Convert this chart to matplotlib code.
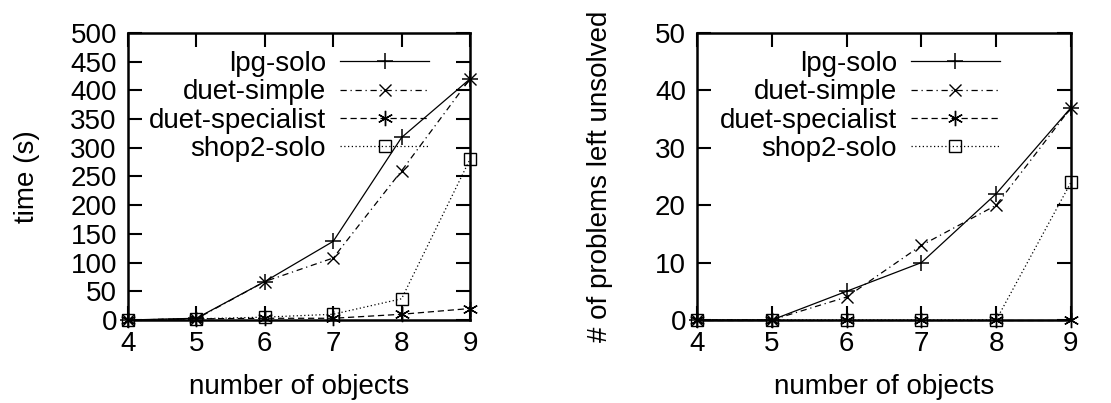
import numpy as np
import matplotlib
matplotlib.use('Agg')
import matplotlib.pyplot as plt

plt.rcParams['font.family'] = ['Liberation Sans', 'DejaVu Sans']
plt.rcParams['font.size'] = 20

#Data
objects = [4, 5, 6, 7, 8, 9]
series_names = ['lpg-solo', 'duet-simple', 'duet-specialist', 'shop2-solo']

time_lpg = [0, 3, 67, 137, 318, 420]
time_simple = [0, 2, 67, 108, 260, 420]
time_specialist = [0, 2, 3, 3, 10, 20]
time_shop2 = [0, 2, 5, 10, 37, 280]

unsolved_lpg = [0, 0, 5, 10, 22, 37]
unsolved_simple = [0, 0, 4, 13, 20, 37]
unsolved_specialist = [0, 0, 0, 0, 0, 0]
unsolved_shop2 = [0, 0, 0, 0, 0, 24]

styles = [
    dict(ls='-', marker='+', ms=11, mew=1.1),
    dict(ls=(0, (5, 3, 1, 3)), marker='x', ms=9, mew=1.0),
    dict(ls=(0, (5, 3)), marker=(6, 2, 0), ms=11, mew=1.0),
    dict(ls=(0, (1, 2)), marker='s', ms=9, mew=1.0, mfc='none'),
]


def draw(ax, data, ymax, ystep, ylabel, leg_x, ylabelpad):
    for name, vals, st in zip(series_names, data, styles):
        ax.plot(objects, vals, color='black', lw=0.9, label=name, clip_on=False, **st)
    ax.set_xlim(4, 9)
    ax.set_ylim(0, ymax)
    ax.set_xticks(objects)
    ax.set_yticks(np.arange(0, ymax + 1, ystep))
    ax.tick_params(direction='in', length=10, width=1.5, top=True, right=True, pad=8)
    for s in ax.spines.values():
        s.set_linewidth(1.8)
    ax.set_xlabel('number of objects', labelpad=12)
    ax.set_ylabel(ylabel, labelpad=ylabelpad)
    ax.legend(loc='upper right', bbox_to_anchor=(leg_x, 0.937), frameon=False,
              markerfirst=False, handlelength=3.2, handletextpad=0.5,
              labelspacing=0.08, borderpad=0, borderaxespad=0)
    for t in ax.get_legend().get_texts():
        t.set_ha('right')


fig = plt.figure(figsize=(11.11, 4.03), dpi=100)
ax1 = fig.add_axes([128 / 1111, 83 / 403, 342 / 1111, 287 / 403])
ax2 = fig.add_axes([697 / 1111, 83 / 403, 374 / 1111, 287 / 403])

draw(ax1, [time_lpg, time_simple, time_specialist, time_shop2], 500, 50, 'time (s)', 0.88, 22)
draw(ax2, [unsolved_lpg, unsolved_simple, unsolved_specialist, unsolved_shop2], 50, 10,
     '# of problems left unsolved', 0.81, 30)

fig.savefig('out.png', dpi=100)
